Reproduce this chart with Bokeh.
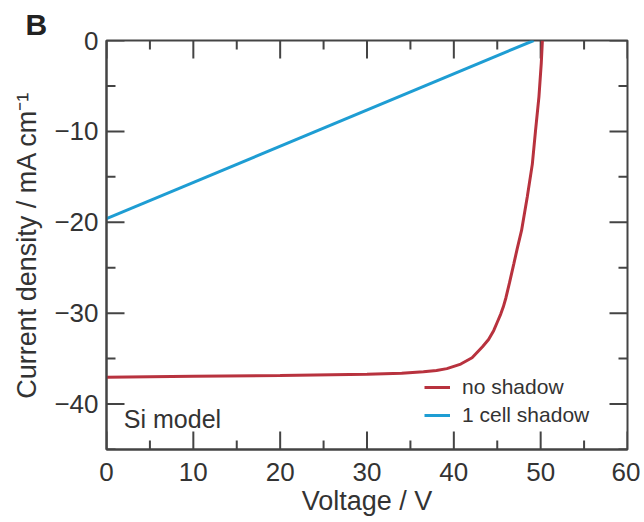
from bokeh.plotting import figure
from bokeh.models import Range1d, FixedTicker, Label, Legend, LegendItem
from bokeh.embed import file_html
from bokeh.resources import INLINE

# ---- data ----
v_no_shadow = [0, 10, 20, 30, 34, 36.5, 38.0, 39.2, 40.8, 42.1, 43.3, 44.0, 44.6, 45.0,
               45.4, 45.7, 46.0, 46.4, 46.9, 47.3, 47.8, 48.46, 49.04, 49.4, 49.8, 50.07, 50.2]
j_no_shadow = [-37.05, -36.95, -36.85, -36.72, -36.62, -36.45, -36.3, -36.1, -35.6, -34.9,
               -33.7, -32.9, -31.9, -31.0, -30.1, -29.3, -28.3, -26.7, -24.6, -22.9,
               -20.9, -17.2, -13.6, -10.0, -6.2, -2.5, 0.0]
v_shadow = [0, 49.2]
j_shadow = [-19.6, 0.0]

x_lim = [0, 60]
y_lim = [-45, 0]
x_ticks = [0, 10, 20, 30, 40, 50, 60]
x_minor = [5, 15, 25, 35, 45, 55]
y_ticks = [0, -10, -20, -30, -40]
y_minor = [-5, -15, -25, -35, -45]
y_tick_labels = {0: "0", -10: "\u221210", -20: "\u221220", -30: "\u221230", -40: "\u221240"}

series_names = ["no shadow", "1 cell shadow"]
panel_letter = "B"
note_text = "Si model"

FONT = "Liberation Sans"
AX = "#444444"
TXT = "#333333"
RED = "#b8323e"
BLUE = "#1e9dd3"

p = figure(width=640, height=520, output_backend="svg", toolbar_location=None,
           x_range=Range1d(*x_lim), y_range=Range1d(*y_lim),
           x_axis_label="Voltage / V", y_axis_label="Current density / mA cm\u207b\u00b9",
           min_border_left=106, min_border_right=13, min_border_top=40, min_border_bottom=71)
p.grid.visible = False
p.outline_line_color = AX
p.outline_line_width = 2
p.background_fill_color = "white"
p.border_fill_color = "white"

# panel letter as title
p.title.text = panel_letter
p.title.text_font = FONT
p.title.text_font_size = "30px"
p.title.text_font_style = "bold"
p.title.text_color = "#222222"
p.title.align = "left"
p.title.offset = -81
p.title.standoff = 0

p.xaxis.ticker = FixedTicker(ticks=x_ticks, minor_ticks=x_minor)
p.yaxis.ticker = FixedTicker(ticks=y_ticks, minor_ticks=y_minor)
p.yaxis.major_label_overrides = y_tick_labels

for ax in p.xaxis + p.yaxis:
    ax.axis_line_color = AX
    ax.axis_line_width = 2
    ax.major_tick_line_color = None
    ax.minor_tick_line_color = None
    ax.major_tick_in = 0
    ax.major_tick_out = 0
    ax.minor_tick_in = 0
    ax.minor_tick_out = 0
    ax.major_label_text_font = FONT
    ax.major_label_text_font_size = "26px"
    ax.major_label_text_color = TXT
    ax.axis_label_text_font = FONT
    ax.axis_label_text_font_size = "27px"
    ax.axis_label_text_font_style = "normal"
    ax.axis_label_text_color = TXT

p.xaxis.major_label_standoff = 13
p.xaxis.axis_label_standoff = 2
p.yaxis.major_label_standoff = 8
p.yaxis.axis_label_standoff = 9

# inward ticks on all four sides: dash markers centred on the frame edge,
# the outer half is clipped away by the frame
tick_kw = dict(marker="dash", line_color=AX, line_width=2, fill_color=None,
               angle_units="deg")
for ticks, sz in ((x_ticks, 36), (x_minor, 18)):
    for edge in y_lim:
        p.scatter(x=ticks, y=[edge] * len(ticks), size=sz, angle=90, **tick_kw)
for ticks, sz in ((y_ticks, 36), (y_minor, 18)):
    for edge in x_lim:
        p.scatter(x=[edge] * len(ticks), y=ticks, size=sz, angle=0, **tick_kw)

r1 = p.line(v_no_shadow, j_no_shadow, line_color=RED, line_width=3)
r2 = p.line(v_shadow, j_shadow, line_color=BLUE, line_width=3)

legend = Legend(items=[LegendItem(label=series_names[0], renderers=[r1]),
                       LegendItem(label=series_names[1], renderers=[r2])],
                location=(318, 20), orientation="vertical",
                background_fill_alpha=0, border_line_color=None,
                padding=0, margin=0, spacing=0,
                glyph_width=26, glyph_height=28, label_height=28,
                label_standoff=12,
                label_text_font=FONT, label_text_font_size="21px",
                label_text_color=TXT)
p.add_layout(legend, "center")

p.add_layout(Label(x=2.0, y=-41.6, text=note_text, text_font=FONT,
                   text_font_size="25px", text_color=TXT,
                   text_baseline="alphabetic"))

open("out.html", "w").write(file_html(p, INLINE))
